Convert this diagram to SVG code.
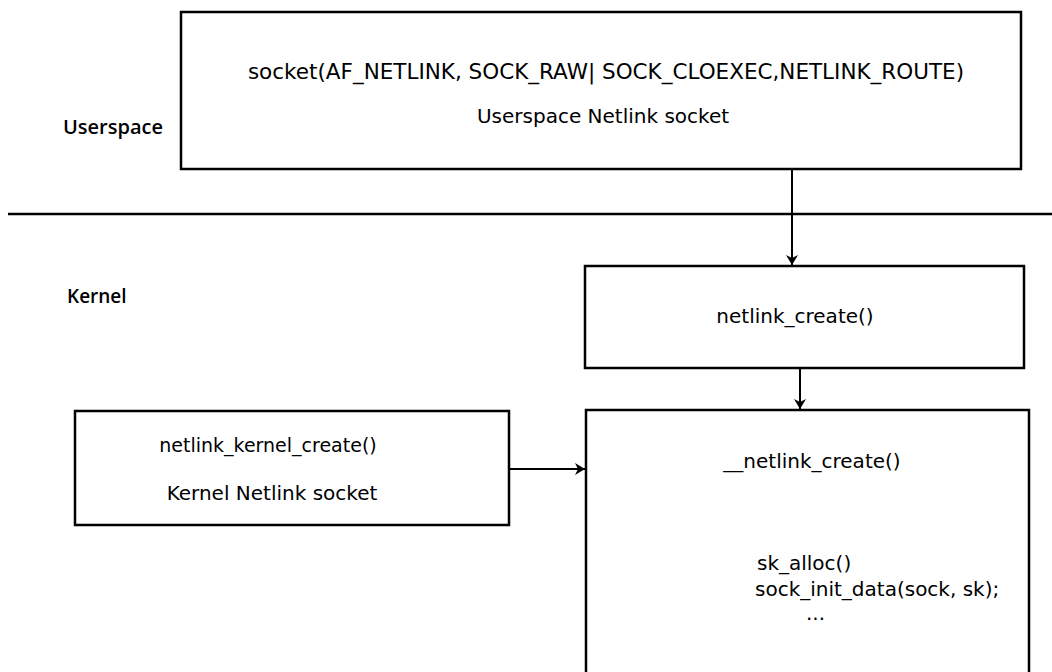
<svg xmlns="http://www.w3.org/2000/svg" width="1052" height="672" viewBox="0 0 1052 672">
<style>
.box{fill:#fff;stroke:#000;stroke-width:2.5}
.t{font-family:"DejaVu Sans",sans-serif;font-size:20px;fill:#000}
.lab{font-family:"Open Sans",sans-serif;font-weight:600;font-size:19px;fill:#000}
.c{stroke:#000;stroke-width:2;fill:none}
</style>
<defs>
<marker id="ah" viewBox="0 0 10 12" refX="10" refY="6" markerWidth="10" markerHeight="12" markerUnits="userSpaceOnUse" orient="auto"><path d="M0,0 L10,6 L0,12 L3,6 Z" fill="#000"/></marker>
</defs>
<rect width="1052" height="672" fill="#fff"/>
<line x1="8" y1="214" x2="1052" y2="214" stroke="#000" stroke-width="2.5"/>
<text class="lab" x="63" y="134" style="font-size:20px">Userspace</text>
<text class="lab" x="67" y="303">Kernel</text>
<g id="userspace-socket">
<rect class="box" x="181" y="12" width="840" height="157"/>
<text class="t" x="606" y="79" text-anchor="middle" style="font-size:21.5px">socket(AF_NETLINK, SOCK_RAW| SOCK_CLOEXEC,NETLINK_ROUTE)</text>
<text class="t" x="603" y="123" text-anchor="middle">Userspace Netlink socket</text>
</g>
<g id="netlink-create">
<rect class="box" x="585" y="266" width="439" height="102"/>
<text class="t" x="795" y="323" text-anchor="middle">netlink_create()</text>
</g>
<g id="kernel-socket">
<rect class="box" x="75" y="411" width="434" height="114"/>
<text class="t" x="268" y="452" text-anchor="middle" style="font-size:19px">netlink_kernel_create()</text>
<text class="t" x="272" y="500" text-anchor="middle">Kernel Netlink socket</text>
</g>
<g id="internal-netlink-create">
<rect class="box" x="586" y="410" width="443" height="280"/>
<text class="t" x="812" y="468" text-anchor="middle">__netlink_create()</text>
<text class="t" x="757" y="570">sk_alloc()</text>
<text class="t" x="755" y="596">sock_init_data(sock, sk);</text>
<text class="t" x="806" y="620">...</text>
</g>
<g id="connectors">
<line class="c" x1="792" y1="169" x2="792" y2="265" marker-end="url(#ah)"/>
<line class="c" x1="800" y1="368" x2="800" y2="409" marker-end="url(#ah)"/>
<line class="c" x1="509" y1="469" x2="585" y2="469" marker-end="url(#ah)"/>
</g>
</svg>
